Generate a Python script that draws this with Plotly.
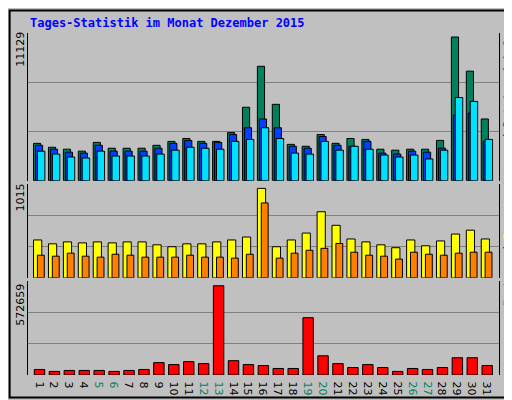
import plotly.graph_objects as go

days = list(range(1, 32))
weekend = [5, 6, 12, 13, 19, 20, 26, 27]

hits = [2896, 2594, 2442, 2291, 2971, 2518, 2518, 2518, 2745, 3047, 3273, 3047, 3047, 3727, 5691, 8863,
        5917, 2820, 2669, 3576, 2896, 3273, 3198, 2442, 2367, 2442, 2442, 3122, 11129, 8486, 4784]
files = [2745, 2442, 2216, 2140, 2745, 2291, 2291, 2291, 2518, 2896, 3122, 2896, 2971, 3576, 4104, 4784,
         4104, 2669, 2518, 3424, 2745, 2669, 3047, 2140, 2065, 2291, 2216, 2518, 5086, 5237, 3047]
pages = [2291, 2065, 1838, 1763, 2291, 1914, 1914, 1914, 2065, 2367, 2594, 2518, 2442, 3047, 3198, 4104,
         3273, 2140, 2065, 3047, 2367, 2669, 2442, 1989, 1838, 1989, 1687, 2367, 6446, 6144, 3198]
visits = [430, 386, 408, 397, 408, 397, 408, 408, 375, 353, 386, 386, 408, 430, 463, 1015,
          353, 430, 508, 750, 596, 441, 408, 375, 342, 430, 364, 419, 497, 541, 441]
sites = [257, 246, 280, 246, 235, 268, 257, 235, 235, 235, 257, 235, 235, 224, 268, 850,
         224, 280, 313, 335, 390, 291, 257, 246, 213, 291, 268, 257, 280, 291, 291]
kbytes = [35530, 22990, 29260, 29260, 29260, 22990, 29260, 35530, 79420, 66880, 85690, 73150, 572659, 91960,
          66880, 60610, 41800, 41800, 367840, 123310, 73150, 48070, 66880, 48070, 22990, 41800, 35530, 48070,
          110770, 110770, 60610]

GREEN = "#00805C"
BLUE = "#0040FF"
CYAN = "#00E0FF"
YELLOW = "#FFFF00"
ORANGE = "#FF8000"
RED = "#FF0000"
BG = "#C0C0C0"

fig = go.Figure()


def bars(y, color, offset, width, axis):
    fig.add_trace(go.Bar(x=days, y=y, offset=offset, width=width, marker_color=color,
                         marker_line=dict(color="black", width=1), yaxis=axis, xaxis="x"))


bars(hits, GREEN, -0.5, 0.48, "y")
bars(files, BLUE, -0.37, 0.48, "y")
bars(pages, CYAN, -0.24, 0.5, "y")
bars(visits, YELLOW, -0.5, 0.55, "y2")
bars(sites, ORANGE, -0.24, 0.46, "y2")
bars(kbytes, RED, -0.45, 0.7, "y3")

ticktext = [f'<span style="color:{GREEN}">{d}</span>' if d in weekend else str(d) for d in days]

tops = [max(hits) * 1.028, max(visits) * 1.047, max(kbytes) * 1.048]
doms = [[0.568, 1], [0.284, 0.558], [0, 0.2735]]
yax = {}
for i, (top, dom) in enumerate(zip(tops, doms)):
    name = "yaxis" if i == 0 else f"yaxis{i + 1}"
    yax[name] = dict(domain=dom, range=[0, top], tickvals=[top / 3, top * 2 / 3], showticklabels=False,
                     gridcolor="#808080", gridwidth=1, zeroline=False, showline=True, linecolor="black",
                     mirror=True, anchor="x", fixedrange=True)

fig.update_layout(
    width=512, height=400, margin=dict(l=20, r=21, t=25, b=24),
    paper_bgcolor=BG, plot_bgcolor=BG, barmode="overlay", showlegend=False,
    font=dict(family="DejaVu Sans Mono", size=11, color="black"),
    xaxis=dict(range=[0.129, 31.69], tickvals=days, ticktext=ticktext, ticks="", showgrid=False,
               showline=False, zeroline=False, fixedrange=True, anchor="y3",
               tickfont=dict(family="DejaVu Sans", size=11)),
    **yax,
)

lab = dict(family="DejaVu Sans", size=11)
ann = [
    dict(x=0, y=1.028, xref="paper", yref="paper", xanchor="left", yanchor="middle", showarrow=False,
         text="<b>Tages-Statistik im Monat Dezember 2015</b>", font=dict(color="#0000FF", size=12)),
    dict(x=-0.015, y=0.954, xref="paper", yref="paper", textangle=-90, xanchor="center", yanchor="middle",
         showarrow=False, text="11129", font=lab),
    dict(x=-0.015, y=0.519, xref="paper", yref="paper", textangle=-90, xanchor="center", yanchor="middle",
         showarrow=False, text="1015", font=lab),
    dict(x=-0.015, y=0.205, xref="paper", yref="paper", textangle=-90, xanchor="center", yanchor="middle",
         showarrow=False, text="572659", font=lab),
    dict(x=1.019, y=0.638, xref="paper", yref="paper", textangle=-90, xanchor="center", yanchor="middle",
         showarrow=False,
         text=f'<span style="color:{ORANGE}">Rechner</span> / <span style="color:{YELLOW}">Besuche</span> '
              f'<span style="color:{CYAN}">Seiten</span> / <span style="color:{BLUE}">Dateien</span> / '
              f'<span style="color:{GREEN}">Anfragen</span>',
         font=dict(size=11)),
    dict(x=1.019, y=0.031, xref="paper", yref="paper", textangle=-90, xanchor="center", yanchor="middle",
         showarrow=False, text=f'<span style="color:{RED}">kb</span>', font=lab),
]
fig.update_layout(annotations=ann)

# window border
fig.add_shape(type="rect", xref="paper", yref="paper", x0=-0.039, x1=1.041, y0=-0.066, y1=1.066,
              line=dict(color="black", width=2), layer="above")

fig.write_html("out.html")
